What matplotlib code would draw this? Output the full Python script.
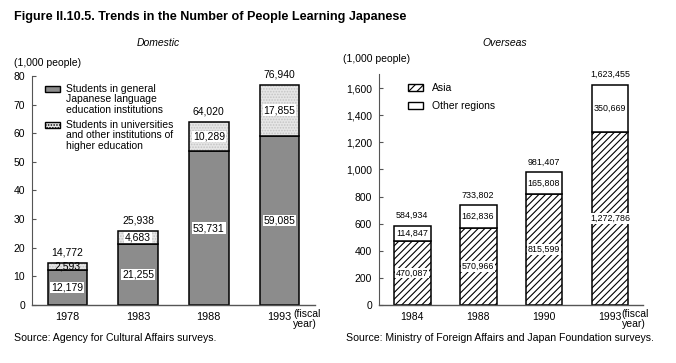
import numpy as np
import matplotlib.pyplot as plt
from matplotlib.patches import Rectangle

plt.rcParams["font.family"] = ["Liberation Sans", "DejaVu Sans"]
plt.rcParams["hatch.linewidth"] = 0.8

# Domestic (1,000 people)
dom_years = ["1978", "1983", "1988", "1993"]
dom_general = [12.179, 21.255, 53.731, 59.085]
dom_univ = [2.593, 4.683, 10.289, 17.855]
dom_general_lbl = ["12,179", "21,255", "53,731", "59,085"]
dom_univ_lbl = ["2,593", "4,683", "10,289", "17,855"]
dom_total_lbl = ["14,772", "25,938", "64,020", "76,940"]

# Overseas (1,000 people)
ovs_years = ["1984", "1988", "1990", "1993"]
ovs_asia = [470.087, 570.966, 815.599, 1272.786]
ovs_other = [114.847, 162.836, 165.808, 350.669]
ovs_asia_lbl = ["470,087", "570,966", "815,599", "1,272,786"]
ovs_other_lbl = ["114,847", "162,836", "165,808", "350,669"]
ovs_total_lbl = ["584,934", "733,802", "981,407", "1,623,455"]

fig = plt.figure(figsize=(6.76, 3.63), dpi=100)
ax1 = fig.add_axes([0.0473, 0.1598, 0.4186, 0.6309])
ax2 = fig.add_axes([0.5607, 0.1598, 0.3905, 0.635])

box = dict(facecolor="white", edgecolor="none", pad=0.6)
width = 0.56


def style_axes(ax, ymax, step, fmt, xsize):
    ax.set_ylim(0, ymax)
    ax.set_xlim(-0.5, 3.5)
    for s in ["top", "right"]:
        ax.spines[s].set_visible(False)
    ax.spines["left"].set_color("#555555")
    ax.spines["bottom"].set_color("#555555")
    ax.spines["left"].set_linewidth(0.8)
    ax.spines["bottom"].set_linewidth(1.0)
    ticks = np.arange(0, ymax + 1, step)
    ax.set_yticks(ticks)
    ax.set_yticklabels([fmt(v) for v in ticks])
    ax.tick_params(axis="y", direction="in", length=3, pad=5, labelsize=7.5,
                   color="#555555")
    ax.tick_params(axis="x", length=0, pad=5, labelsize=xsize)


# ---- Domestic ----
x = np.arange(len(dom_years))
ax1.bar(x, dom_general, width, color="#8c8c8c", edgecolor="black", linewidth=1.1)
ax1.bar(x, dom_univ, width, bottom=dom_general, color="#e6e6e6",
        edgecolor="#c4c4c4", hatch="......", linewidth=0)
ax1.bar(x, dom_univ, width, bottom=dom_general, fill=False,
        edgecolor="black", linewidth=1.1)
tot = np.array(dom_general) + np.array(dom_univ)
for i in range(len(x)):
    ax1.text(x[i], dom_general[i] / 2, dom_general_lbl[i], ha="center",
             va="center", fontsize=7.5, bbox=box)
    ax1.text(x[i], dom_general[i] + dom_univ[i] / 2, dom_univ_lbl[i],
             ha="center", va="center", fontsize=7.5,
             bbox=box if dom_univ[i] > 4 else None)
    ax1.annotate(dom_total_lbl[i], (x[i], tot[i]), xytext=(0, 4),
                 textcoords="offset points", ha="center", va="bottom",
                 fontsize=7.5, annotation_clip=False)
style_axes(ax1, 80, 10, lambda v: f"{int(v)}", 7.8)
ax1.set_xticks(x)
ax1.set_xticklabels(dom_years)
ax1.annotate("(fiscal\nyear)", (x[-1], 0), xytext=(10, -3),
             textcoords="offset points", ha="left", va="top", fontsize=7.5,
             linespacing=0.95, annotation_clip=False)

# legend (manual, handle beside the first text line)
ax1.add_patch(Rectangle((0.045, 0.928), 0.055, 0.03, transform=ax1.transAxes,
                        facecolor="#8c8c8c", edgecolor="black", lw=1,
                        clip_on=False))
ax1.text(0.12, 0.965, "Students in general\nJapanese language\neducation institutions",
         transform=ax1.transAxes, ha="left", va="top", fontsize=7.5,
         linespacing=1.05)
ax1.add_patch(Rectangle((0.045, 0.771), 0.055, 0.03, transform=ax1.transAxes,
                        facecolor="#e6e6e6", edgecolor="black", lw=1,
                        hatch="......", clip_on=False))
ax1.text(0.12, 0.808, "Students in universities\nand other institutions of\nhigher education",
         transform=ax1.transAxes, ha="left", va="top", fontsize=7.5,
         linespacing=1.05)

# ---- Overseas ----
x2 = np.arange(len(ovs_years))
ax2.bar(x2, ovs_asia, width, color="white", edgecolor="black", hatch="/////",
        linewidth=1.1)
ax2.bar(x2, ovs_other, width, bottom=ovs_asia, color="white",
        edgecolor="black", linewidth=1.1)
tot2 = np.array(ovs_asia) + np.array(ovs_other)
for i in range(len(x2)):
    ax2.text(x2[i], ovs_asia[i] / 2, ovs_asia_lbl[i], ha="center",
             va="center", fontsize=6.4, bbox=box)
    ax2.text(x2[i], ovs_asia[i] + ovs_other[i] / 2, ovs_other_lbl[i],
             ha="center", va="center", fontsize=6.4)
    ax2.annotate(ovs_total_lbl[i], (x2[i], tot2[i]), xytext=(0, 4),
                 textcoords="offset points", ha="center", va="bottom",
                 fontsize=6.4, annotation_clip=False)
style_axes(ax2, 1700, 200, lambda v: f"{int(v):,}", 7.5)
ax2.set_yticks(np.arange(0, 1601, 200))
ax2.set_yticklabels([f"{int(v):,}" for v in np.arange(0, 1601, 200)])
ax2.set_xticks(x2)
ax2.set_xticklabels(ovs_years)
ax2.annotate("(fiscal\nyear)", (x2[-1], 0), xytext=(8.5, -3),
             textcoords="offset points", ha="left", va="top", fontsize=7.5,
             linespacing=0.95, annotation_clip=False)

ax2.add_patch(Rectangle((0.11, 0.927), 0.055, 0.03, transform=ax2.transAxes,
                        facecolor="white", edgecolor="black", lw=1,
                        hatch="////", clip_on=False))
ax2.text(0.2, 0.942, "Asia", transform=ax2.transAxes, ha="left",
         va="center", fontsize=7.5)
ax2.add_patch(Rectangle((0.11, 0.85), 0.055, 0.03, transform=ax2.transAxes,
                        facecolor="white", edgecolor="black", lw=1,
                        clip_on=False))
ax2.text(0.2, 0.865, "Other regions", transform=ax2.transAxes, ha="left",
         va="center", fontsize=7.5)

# ---- figure texts ----
fig.text(14 / 676, 1 - 17 / 363, "Figure II.10.5. Trends in the Number of People Learning Japanese",
         ha="left", va="center", fontsize=9.1, fontweight="bold")
fig.text(158 / 676, 1 - 43 / 363, "Domestic", ha="center", va="center",
         fontsize=7.5, style="italic")
fig.text(505 / 676, 1 - 43 / 363, "Overseas", ha="center", va="center",
         fontsize=7.5, style="italic")
fig.text(14 / 676, 1 - 63 / 363, "(1,000 people)", ha="left", va="center",
         fontsize=7.5)
fig.text(343 / 676, 1 - 59 / 363, "(1,000 people)", ha="left", va="center",
         fontsize=7.5)
fig.text(14 / 676, 1 - 338 / 363, "Source: Agency for Cultural Affairs surveys.",
         ha="left", va="center", fontsize=7.6)
fig.text(346 / 676, 1 - 338 / 363,
         "Source: Ministry of Foreign Affairs and Japan Foundation surveys.",
         ha="left", va="center", fontsize=7.6)

fig.savefig("out.png", dpi=100)
